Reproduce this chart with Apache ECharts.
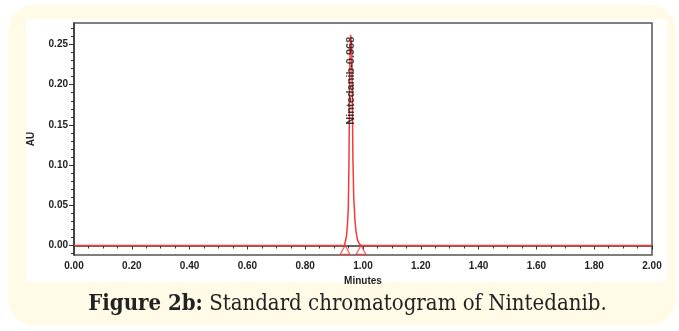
<!DOCTYPE html>
<html>
<head>
<meta charset="utf-8">
<script src="https://cdn.jsdelivr.net/npm/echarts@6/dist/echarts.min.js"></script>
<style>
  html, body { margin: 0; padding: 0; background: #fff; }
  .page { position: relative; width: 679px; height: 331px; overflow: hidden; background: #fff; }
  .card {
    position: absolute; left: 8px; top: 5px; width: 668px; height: 320px;
    background: #fffbe7; border-radius: 26px;
  }
  .panel { position: absolute; left: 26px; top: 19px; width: 641px; height: 263px; background: #fff; }
  #chart { position: absolute; left: 0; top: 0; width: 679px; height: 331px; }
  .caption {
    position: absolute; left: 8px; top: 289px; width: 679px; text-align: center;
    font-family: "DejaVu Serif Condensed", "DejaVu Serif", serif; font-size: 22px; color: #222;
  }
  .caption b { font-weight: bold; }
</style>
</head>
<body>
<div class="page">
  <div class="card"></div>
  <div class="panel"></div>
  <div id="chart"></div>
  <div class="caption"><b>Figure 2b:</b> Standard chromatogram of Nintedanib.</div>
</div>
<script>
// chromatogram trace, [minutes, AU]
const trace = [
  [0.000, 0], [0.500, 0], [0.936, 0], [0.940, 0.002], [0.943, 0.012],
  [0.946, 0.025], [0.949, 0.045], [0.951, 0.09], [0.953, 0.17],
  [0.955, 0.235], [0.957, 0.262], [0.959, 0.264], [0.961, 0.245],
  [0.963, 0.19], [0.965, 0.11], [0.968, 0.06], [0.972, 0.032],
  [0.976, 0.017], [0.981, 0.007], [0.987, 0.002], [0.994, 0],
  [1.600, 0], [2.000, 0]
]
// peak start / end markers
const peakMarks = [[0.938, -0.0055], [0.993, -0.0055]]
const peakLabel = { name: 'Nintedanib-0.968', at: [0.957, 0.205] }

const yTicks = [0, 0.05, 0.10, 0.15, 0.20, 0.25]
const yMinorTicks = [-0.01, 0.01, 0.02, 0.03, 0.04, 0.06, 0.07, 0.08, 0.09,
  0.11, 0.12, 0.13, 0.14, 0.16, 0.17, 0.18, 0.19, 0.21, 0.22, 0.23, 0.24, 0.26, 0.27]

const Y_MIN = -0.0118
const Y_MAX = 0.2767
const RED = '#f43a3a'
const AXIS = '#333'
const font = { fontFamily: 'Liberation Sans, Arial, sans-serif', fontSize: 10, color: '#222' }

const chart = echarts.init(document.getElementById('chart'))

chart.setOption({
  animation: false,
  grid: {
    left: 74, right: 27, top: 23, bottom: 76,
    show: true, borderColor: '#555', borderWidth: 1.5
  },
  xAxis: {
    type: 'value', min: 0, max: 2, interval: 0.2,
    name: 'Minutes', nameLocation: 'middle', nameGap: 20,
    nameTextStyle: { ...font, fontWeight: 'bold', fontSize: 10 },
    axisLine: { show: true, lineStyle: { color: AXIS, width: 1.5 } },
    axisTick: { show: true, length: 4, lineStyle: { color: AXIS } },
    minorTick: { show: true, splitNumber: 4, length: 3, lineStyle: { color: AXIS } },
    axisLabel: { ...font, fontWeight: 'bold', margin: 6, formatter: v => v.toFixed(2) },
    splitLine: { show: false }
  },
  yAxis: [
    {
      type: 'value', min: Y_MIN, max: Y_MAX,
      name: 'AU', nameLocation: 'middle', nameGap: 38,
      nameTextStyle: { ...font, fontWeight: 'bold', fontSize: 10 },
      axisLine: { show: true, lineStyle: { color: AXIS, width: 1.5 } },
      axisTick: { show: true, length: 5, customValues: yTicks, lineStyle: { color: AXIS } },
      axisLabel: { ...font, fontWeight: 'bold', margin: 6, customValues: yTicks, formatter: v => v.toFixed(2) },
      splitLine: { show: false }
    },
    {
      type: 'value', min: Y_MIN, max: Y_MAX, position: 'left',
      axisLine: { show: false },
      axisTick: { show: true, length: 3, customValues: yMinorTicks, lineStyle: { color: AXIS } },
      axisLabel: { show: false },
      splitLine: { show: false }
    }
  ],
  series: [
    {
      type: 'line',
      data: trace,
      showSymbol: false,
      lineStyle: { color: RED, width: 1.5 },
      z: 3
    },
    {
      type: 'scatter',
      data: peakMarks,
      symbol: 'triangle',
      symbolSize: [10, 9],
      itemStyle: { color: 'rgba(255,255,255,0)', borderColor: RED, borderWidth: 1.2 },
      z: 4
    },
    {
      type: 'scatter',
      data: [peakLabel.at],
      symbolSize: 0,
      label: {
        show: true, position: 'inside', rotate: 90,
        formatter: peakLabel.name,
        fontFamily: 'Liberation Sans, Arial, sans-serif',
        fontSize: 11, fontWeight: 'bold', color: '#111'
      },
      z: 5
    }
  ]
})
</script>
</body>
</html>
